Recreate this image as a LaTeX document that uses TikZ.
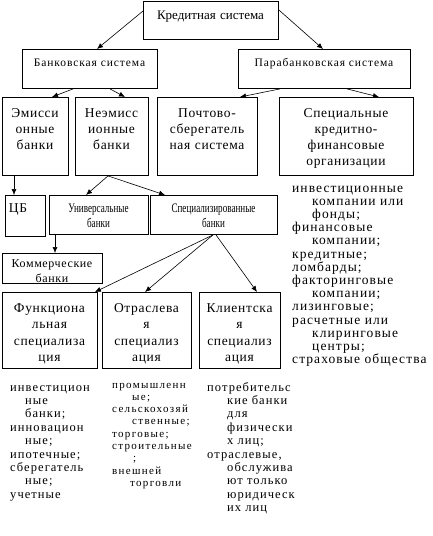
\documentclass[tikz,border=0pt]{standalone}
\usepackage{fontspec}
\setmainfont{Liberation Serif}
\newfontfamily\sysfont{Liberation Serif}[LetterSpace=8]
\newfontfamily\boxfont{Liberation Serif}[LetterSpace=5]
\newfontfamily\listfont{Liberation Serif}[LetterSpace=8]
\newfontfamily\colfont{Liberation Serif}[LetterSpace=8.5]
\newfontfamily\smallfont{Liberation Serif}[LetterSpace=12]
\newfontfamily\narrowfont{Liberation Serif}[FakeStretch=0.7]
\usetikzlibrary{arrows.meta}

\begin{document}
\begin{tikzpicture}[x=1pt,y=-1pt,>={Latex[length=6pt,width=5pt]},
    box/.style={draw,line width=0.9pt,inner sep=0pt,anchor=north west},
    txt/.style={inner sep=0pt,anchor=base,align=center,text width=140pt},
    lst/.style={inner sep=0pt,anchor=base west,align=left,text width=160pt},
    conn/.style={->,line width=0.6pt}]
    \useasboundingbox (0,0) rectangle (433,536);
    % boxes
    \node[box,minimum width=135pt,minimum height=38pt] (kred) at (143,1) {};
    \node[box,minimum width=135pt,minimum height=39pt] (bank) at (22,49) {};
    \node[box,minimum width=172pt,minimum height=39pt] (para) at (238,49) {};
    \node[box,minimum width=66pt,minimum height=78pt] (emis) at (2,97) {};
    \node[box,minimum width=73pt,minimum height=78pt] (neem) at (75,97) {};
    \node[box,minimum width=100pt,minimum height=78pt] (post) at (157,97) {};
    \node[box,minimum width=134pt,minimum height=78pt] (spec) at (279,97) {};
    \node[box,minimum width=40pt,minimum height=41pt] (cb) at (5,195) {};
    \node[box,minimum width=99pt,minimum height=39pt] (univ) at (49,195) {};
    \node[box,minimum width=127pt,minimum height=39pt] (spez) at (150,195) {};
    \node[box,minimum width=100pt,minimum height=30pt] (comm) at (2,253) {};
    \node[box,minimum width=95pt,minimum height=76pt] (func) at (2,292) {};
    \node[box,minimum width=89pt,minimum height=76pt] (otr) at (102,292) {};
    \node[box,minimum width=81pt,minimum height=76pt] (kli) at (199,292) {};
    % box texts
    \node[txt,font=\fontsize{13}{15}\selectfont] (kredT) at (210.5,19) {Кредитная система};
    \node[txt,font=\sysfont\fontsize{11.5}{14}\selectfont] (bankT) at (89.5,66) {Банковская система};
    \node[txt,font=\sysfont\fontsize{11.5}{14}\selectfont] (paraT) at (324,66) {Парабанковская система};
    \node[txt,font=\boxfont\fontsize{13.5}{16}\selectfont] (emisT) at (35,117) {Эмисси\\онные\\банки};
    \node[txt,font=\boxfont\fontsize{13.5}{16}\selectfont] (neemT) at (111.5,117) {Неэмисс\\ионные\\банки};
    \node[txt,font=\boxfont\fontsize{13.5}{16}\selectfont] (postT) at (207,117) {Почтово-\\сберегатель\\ная система};
    \node[txt,font=\boxfont\fontsize{13.5}{16}\selectfont] (specT) at (346,117) {Специальные\\кредитно-\\финансовые\\организации};
    \node[txt,font=\boxfont\fontsize{13.5}{16}\selectfont] (cbT) at (18,212) {ЦБ};
    \node[txt,font=\narrowfont\fontsize{13}{15}\selectfont] (univT) at (98.5,212) {Универсальные\\банки};
    \node[txt,font=\narrowfont\fontsize{13}{15}\selectfont] (spezT) at (213.5,212) {Специализированные\\банки};
    \node[txt,font=\boxfont\fontsize{12}{15}\selectfont] (commT) at (52,267) {Коммерческие\\банки};
    \node[txt,font=\boxfont\fontsize{13.5}{16.5}\selectfont] (funcT) at (49.5,312) {Функциона\\льная\\специализа\\ция};
    \node[txt,font=\boxfont\fontsize{13.5}{16.5}\selectfont] (otrT) at (146.5,312) {Отраслева\\я\\специализ\\ация};
    \node[txt,font=\boxfont\fontsize{13.5}{16.5}\selectfont] (kliT) at (239.5,312) {Клиентска\\я\\специализ\\ация};
    % lists
    \node[lst,font=\listfont\fontsize{13.5}{13.2}\selectfont] (paraL) at (292,192) {инвестиционные\\\hspace*{20pt}компании или\\\hspace*{20pt}фонды;\\финансовые\\\hspace*{20pt}компании;\\кредитные;\\ломбарды;\\факторинговые\\\hspace*{20pt}компании;\\лизинговые;\\расчетные или\\\hspace*{20pt}клиринговые\\\hspace*{20pt}центры;\\страховые общества};
    \node[lst,font=\colfont\fontsize{12.5}{13.4}\selectfont] (funcL) at (10,391) {инвестицион\\\hspace*{15pt}ные\\\hspace*{15pt}банки;\\инновацион\\\hspace*{15pt}ные;\\ипотечные;\\сберегатель\\\hspace*{15pt}ные;\\учетные};
    \node[lst,font=\smallfont\fontsize{11}{12.3}\selectfont] (otrL) at (112,388) {промышленн\\\hspace*{20pt}ые;\\сельскохозяй\\\hspace*{20pt}ственные;\\торговые;\\строительные\\\hspace*{21pt};\\внешней\\\hspace*{18pt}торговли};
    \node[lst,font=\colfont\fontsize{12.5}{13.4}\selectfont] (kliL) at (207,391) {потребительс\\\hspace*{20pt}кие банки\\\hspace*{20pt}для\\\hspace*{20pt}физически\\\hspace*{20pt}х лиц;\\отраслевые,\\\hspace*{20pt}обслужива\\\hspace*{20pt}ют только\\\hspace*{20pt}юридическ\\\hspace*{20pt}их лиц};
    % arrows
    \draw[conn] ([yshift=-10pt]kred.north west) -- ([xshift=75pt]bank.north west);
    \draw[conn] ([yshift=-9pt]kred.north east) -- ([xshift=85pt]para.north west);
    \draw[conn] ([xshift=51pt]bank.south west) -- ([xshift=50pt]emis.north west);
    \draw[conn] ([xshift=88pt]bank.south west) -- ([xshift=50pt]neem.north west);
    \draw[conn] ([xshift=42pt]para.south west) -- ([xshift=83pt]post.north west);
    \draw[conn] ([xshift=109pt]para.south west) -- ([xshift=100pt]spec.north west);
    \draw[conn] ([xshift=12pt]emis.south west) -- ([xshift=9pt]cb.north west);
    \draw[conn] ([xshift=33pt]neem.south west) -- ([xshift=37pt]univ.north west);
    \draw[conn] ([xshift=33pt]neem.south west) -- ([xshift=15pt]spez.north west);
    \draw[conn] ([xshift=6pt]univ.south west) -- ([xshift=53pt]comm.north west);
    \draw[conn] ([xshift=63pt]spez.south west) -- ([xshift=-3pt]func.north east);
    \draw[conn] ([xshift=63pt]spez.south west) -- ([xshift=43pt]otr.north west);
    \draw[conn] ([xshift=66pt]spez.south west) -- ([xshift=58pt]kli.north west);
\end{tikzpicture}
\end{document}
